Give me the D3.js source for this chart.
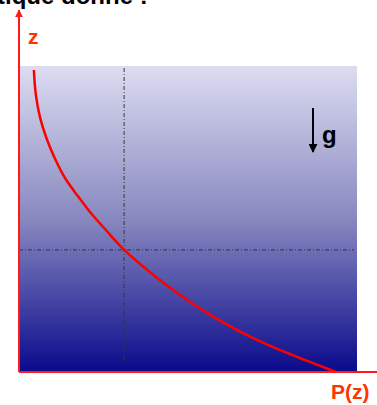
<html>
<script src="https://d3js.org/d3.v7.min.js"></script>
<body style="margin:0;background:#fff">
<svg></svg>
<script>
// pressure profile (arbitrary units)
const pValues = [0.044, 0.050, 0.062, 0.080, 0.104, 0.136, 0.172, 0.210, 0.257, 0.311, 0.358, 0.457, 0.555, 0.654, 0.752, 0.851, 0.938];
const zValues = [0.987, 0.905, 0.833, 0.768, 0.703, 0.634, 0.578, 0.523, 0.464, 0.399, 0.353, 0.267, 0.194, 0.132, 0.081, 0.037, 0.0];
const crossP = [0.311];
const crossZ = [0.399];
const axisLabels = ["z", "P(z)"];

const width = 377, height = 405;
const svg = d3.select('svg').attr('width', width).attr('height', height);

const x = d3.scaleLinear().domain([0, 1]).range([19, 357]);
const y = d3.scaleLinear().domain([0, 1]).range([372, 66]);

const defs = svg.append('defs');
const grad = defs.append('linearGradient').attr('id', 'bg')
    .attr('x1', 0).attr('y1', 0).attr('x2', 0).attr('y2', 1);
grad.append('stop').attr('offset', '0%').attr('stop-color', '#dcdcf1');
grad.append('stop').attr('offset', '50%').attr('stop-color', '#8888c0');
grad.append('stop').attr('offset', '100%').attr('stop-color', '#0a0a8c');

defs.append('marker').attr('id', 'redArrow')
    .attr('viewBox', '0 0 10 10').attr('refX', 9).attr('refY', 5)
    .attr('markerWidth', 4).attr('markerHeight', 4).attr('orient', 'auto')
  .append('path').attr('d', 'M0,0L10,5L0,10z').attr('fill', '#ff1a1a');
defs.append('marker').attr('id', 'blackArrow')
    .attr('viewBox', '0 0 10 10').attr('refX', 9).attr('refY', 5)
    .attr('markerWidth', 4.5).attr('markerHeight', 4.5).attr('orient', 'auto')
  .append('path').attr('d', 'M0,0L10,5L0,10z').attr('fill', '#000');

// clipped heading from the page above
svg.append('text').attr('x', -3).attr('y', 4)
    .style('font', 'bold 24px "Liberation Sans", Arial, sans-serif')
    .text('tique donné :');

// background box
svg.append('rect')
    .attr('x', x(0)).attr('y', y(1))
    .attr('width', x(1) - x(0)).attr('height', y(0) - y(1))
    .attr('fill', 'url(#bg)');

// crosshair
svg.append('line')
    .attr('x1', x(crossP[0])).attr('x2', x(crossP[0]))
    .attr('y1', y(1) + 2).attr('y2', y(0) - 12)
    .attr('stroke', '#333').attr('stroke-opacity', 0.8).attr('stroke-width', 1.2)
    .attr('stroke-dasharray', '4,2,1,2');
svg.append('line')
    .attr('x1', x(0)).attr('x2', x(1) - 3)
    .attr('y1', y(crossZ[0])).attr('y2', y(crossZ[0]))
    .attr('stroke', '#333').attr('stroke-opacity', 0.8).attr('stroke-width', 1.2)
    .attr('stroke-dasharray', '4,2,1,2');

// P(z) curve
const pts = pValues.map((p, i) => [p, zValues[i]]);
svg.append('path').datum(pts)
    .attr('d', d3.line().x(d => x(d[0])).y(d => y(d[1])).curve(d3.curveMonotoneY))
    .attr('fill', 'none').attr('stroke', '#ff0000').attr('stroke-width', 2.5);

// axes
svg.append('line')
    .attr('x1', x(0)).attr('x2', x(0)).attr('y1', y(0)).attr('y2', 10)
    .attr('stroke', '#ff1a1a').attr('stroke-width', 2)
    .attr('marker-end', 'url(#redArrow)');
svg.append('line')
    .attr('x1', x(0)).attr('x2', 385).attr('y1', y(0)).attr('y2', y(0))
    .attr('stroke', '#ff1a1a').attr('stroke-width', 2);

svg.append('text').attr('x', 28).attr('y', 44)
    .attr('fill', '#ff3300')
    .style('font', 'bold 21px "Liberation Sans", Arial, sans-serif')
    .text(axisLabels[0]);
svg.append('text').attr('x', 331).attr('y', 399)
    .attr('fill', '#ff3300')
    .style('font', 'bold 21px "Liberation Sans", Arial, sans-serif')
    .text(axisLabels[1]);

// gravity arrow
svg.append('line')
    .attr('x1', 313).attr('x2', 313).attr('y1', 108).attr('y2', 152)
    .attr('stroke', '#000').attr('stroke-width', 2)
    .attr('marker-end', 'url(#blackArrow)');
svg.append('text').attr('x', 322).attr('y', 143)
    .style('font', 'bold 24px "Liberation Sans", Arial, sans-serif')
    .text('g');
</script>
</body>
</html>
